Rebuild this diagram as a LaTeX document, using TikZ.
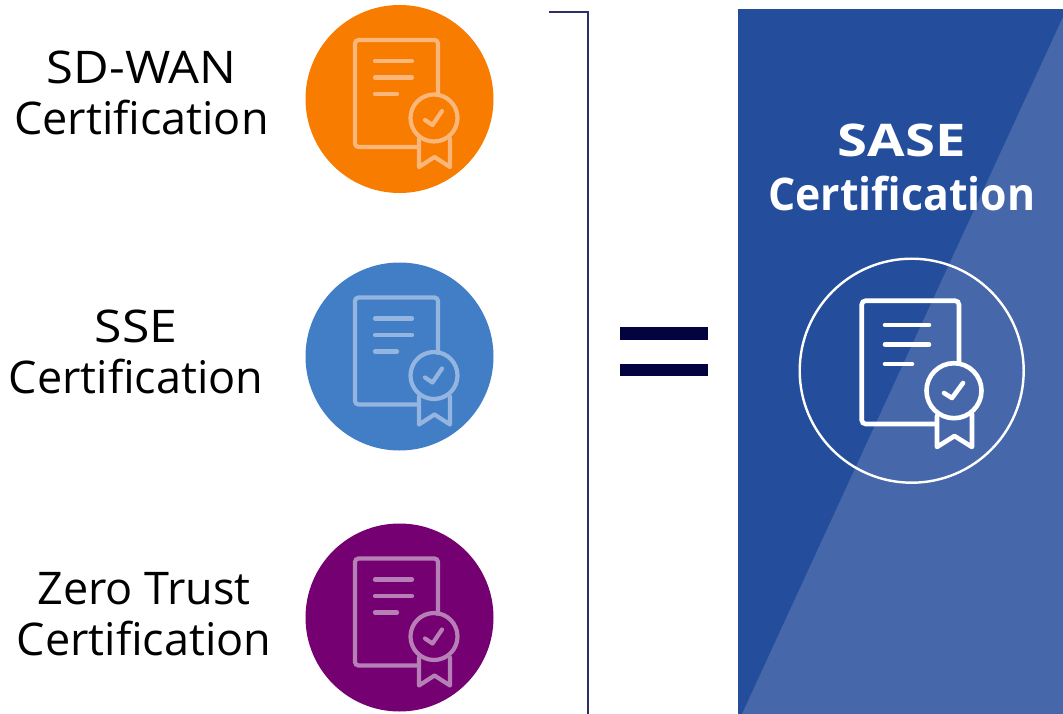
\documentclass[tikz,border=0pt]{standalone}
\usepackage{fontspec}
\setmainfont{Open Sans}
\definecolor{cOrange}{HTML}{F77C00}
\definecolor{cBlue}{HTML}{427EC6}
\definecolor{cPurple}{HTML}{750072}
\definecolor{cPanel}{HTML}{244E9C}
\definecolor{cPanelLight}{HTML}{4668AA}
\definecolor{cBracket}{HTML}{2D2D68}
\definecolor{cEq}{HTML}{03033F}
\definecolor{tOrange}{HTML}{FBB77A}
\definecolor{tBlue}{HTML}{93B5E0}
\definecolor{tPurple}{HTML}{B67FB5}
\tikzset{
  lbl/.style={align=center,font=\fontsize{45}{51}\selectfont,text=black,inner sep=0pt},
  disc/.style={circle,minimum size=188pt,inner sep=0pt,draw=none},
  pics/certicon/.style={code={
    \draw[line width=4.2pt,rounded corners=3.5pt] (419,147)--(355,147)--(355,40)--(438,40)--(438,97);
    \draw[line width=4.2pt,line cap=round] (375,61)--(412,61) (375,77.5)--(412,77.5) (375,94)--(397,94);
    \draw[line width=4.2pt] (434,118) circle (23.5);
    \draw[line width=4.2pt,line cap=round,line join=round] (425,120)--(432.5,125)--(442,111);
    \draw[line width=4.2pt,line cap=round,line join=round] (419,139)--(419,167)--(434.5,157)--(450,167)--(450,139);
  }}
}
\begin{document}
\begin{tikzpicture}[x=1pt,y=-1pt]
\useasboundingbox (0,0) rectangle (1063,714);
\fill[white] (0,0) rectangle (1063,714);
% panel
\fill[cPanel] (738,9) rectangle (1063,714);
\fill[cPanelLight] (1063,17) -- (1063,714) -- (742,714) -- cycle;
% bracket
\draw[cBracket,line width=2.6pt] (549,12) -- (588,12) -- (588,714);
% equals
\fill[cEq] (620,327) rectangle (708,340);
\fill[cEq] (620,364) rectangle (708,376);
% discs
\node[disc,fill=cOrange] (d1) at (399.5,99) {};
\node[disc,fill=cBlue] (d2) at (399.5,356.5) {};
\node[disc,fill=cPurple] (d3) at (399.5,617.5) {};
\pic[draw=tOrange] at (0,0) {certicon};
\pic[draw=tBlue] at (0,257.5) {certicon};
\pic[draw=tPurple] at (0,518.5) {certicon};
% big icon
\node[circle,minimum size=224pt,inner sep=0pt,draw=white,line width=2.4pt] (big) at (911.7,370.7) {};
\draw[white,line width=4.6pt,rounded corners=4pt] (937,424)--(861.7,424)--(861.7,300.7)--(959,300.7)--(959,365);
\draw[white,line width=4.6pt,line cap=round] (885,325)--(929,325) (885,344.5)--(929,344.5) (885,364)--(912,364);
\draw[white,line width=4.6pt] (954,390.7) circle (27.5);
\draw[white,line width=4.6pt,line cap=round,line join=round] (944,393)--(952,398)--(963,383);
\draw[white,line width=4.6pt,line cap=round,line join=round] (937,416)--(937,447)--(954.5,436)--(972,447)--(972,414);
% labels
\node[lbl] (t1) at (141.5,93) {\scalebox{1.087}[1]{SD-WAN}\\Certification};
\node[lbl] (t2) at (136,352) {\scalebox{1.11}[1]{SSE}\\Certification};
\node[lbl] (t3) at (144,614.5) {Zero Trust\\Certification};
\node[lbl,text=white,font=\fontsize{45}{54}\selectfont\bfseries] (t4) at (902,167.5) {\scalebox{1.21}[1]{SASE}\\\scalebox{.95}[1]{Certification}};
\end{tikzpicture}
\end{document}
